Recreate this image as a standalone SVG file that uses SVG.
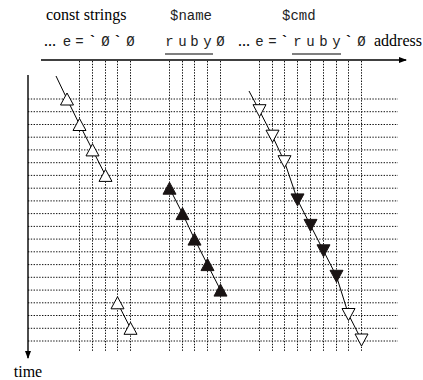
<svg xmlns="http://www.w3.org/2000/svg" xmlns:xlink="http://www.w3.org/1999/xlink" width="423" height="380" viewBox="0 0 423 380">
<style>
.serif{font-family:"Liberation Serif","Times New Roman",serif;font-size:16px;fill:#000}
.mono{font-family:"Liberation Mono","Courier New",monospace;font-size:14px;fill:#222}
.tick{font-family:"Liberation Mono","Courier New",monospace;font-size:14px;font-weight:bold;fill:#000}
.ell{font-family:"Liberation Serif","Times New Roman",serif;font-size:12px;font-weight:bold;fill:#000}
.grid line{stroke:#111;stroke-width:1;stroke-dasharray:1.4 1.4}
.axis{stroke:#000;stroke-width:1.4;fill:none}
.conn{stroke:#000;stroke-width:1;fill:none}
.open{fill:#fff;stroke:#000;stroke-width:1}
.solid{fill:#1a1414;stroke:#1a1414;stroke-width:1}
</style>
<defs>
<path id="up" d="M0,-6 L6.5,6 L-6.5,6 Z"/>
<path id="dn" d="M-6.5,-7 L6.5,-7 L0,5 Z"/>
<marker id="ah" viewBox="0 0 8 6" refX="7" refY="3" markerWidth="8" markerHeight="6" markerUnits="userSpaceOnUse" orient="auto">
<path d="M0,0 L8,3 L0,6 Z" fill="#000"/>
</marker>
</defs>

<g id="grid" class="grid">
<line x1="28" y1="99" x2="398" y2="99"/>
<line x1="28" y1="111.7" x2="398" y2="111.7"/>
<line x1="28" y1="124.5" x2="398" y2="124.5"/>
<line x1="28" y1="137.2" x2="398" y2="137.2"/>
<line x1="28" y1="149.9" x2="398" y2="149.9"/>
<line x1="28" y1="162.7" x2="398" y2="162.7"/>
<line x1="28" y1="175.4" x2="398" y2="175.4"/>
<line x1="28" y1="188.2" x2="398" y2="188.2"/>
<line x1="28" y1="200.9" x2="398" y2="200.9"/>
<line x1="28" y1="213.6" x2="398" y2="213.6"/>
<line x1="28" y1="226.4" x2="398" y2="226.4"/>
<line x1="28" y1="239.1" x2="398" y2="239.1"/>
<line x1="28" y1="251.8" x2="398" y2="251.8"/>
<line x1="28" y1="264.6" x2="398" y2="264.6"/>
<line x1="28" y1="277.3" x2="398" y2="277.3"/>
<line x1="28" y1="290.1" x2="398" y2="290.1"/>
<line x1="28" y1="302.8" x2="398" y2="302.8"/>
<line x1="28" y1="315.5" x2="398" y2="315.5"/>
<line x1="28" y1="328.3" x2="398" y2="328.3"/>
<line x1="28" y1="341" x2="398" y2="341"/>
<line x1="79.5" y1="61" x2="79.5" y2="352"/>
<line x1="92.5" y1="61" x2="92.5" y2="352"/>
<line x1="105.5" y1="61" x2="105.5" y2="352"/>
<line x1="117.5" y1="61" x2="117.5" y2="352"/>
<line x1="130.5" y1="61" x2="130.5" y2="352"/>
<line x1="169.5" y1="61" x2="169.5" y2="352"/>
<line x1="182.5" y1="61" x2="182.5" y2="352"/>
<line x1="194.5" y1="61" x2="194.5" y2="352"/>
<line x1="207.5" y1="61" x2="207.5" y2="352"/>
<line x1="220.5" y1="61" x2="220.5" y2="352"/>
<line x1="259.5" y1="61" x2="259.5" y2="352"/>
<line x1="272.5" y1="61" x2="272.5" y2="352"/>
<line x1="284.5" y1="61" x2="284.5" y2="352"/>
<line x1="297.5" y1="61" x2="297.5" y2="352"/>
<line x1="310.5" y1="61" x2="310.5" y2="352"/>
<line x1="323.5" y1="61" x2="323.5" y2="352"/>
<line x1="336.5" y1="61" x2="336.5" y2="352"/>
<line x1="348.5" y1="61" x2="348.5" y2="352"/>
<line x1="361.5" y1="61" x2="361.5" y2="352"/>
</g>

<g id="axes">
<line id="address-axis" class="axis" x1="41" y1="60" x2="406" y2="60" marker-end="url(#ah)"/>
<line id="time-axis" class="axis" x1="28" y1="75" x2="28" y2="358" marker-end="url(#ah)"/>
<text class="serif" x="374" y="46">address</text>
<text class="serif" x="28" y="377" text-anchor="middle">time</text>
</g>

<g id="labels">
<text class="serif" x="46" y="20">const strings</text>
<text class="mono" x="170" y="20">$name</text>
<text class="mono" x="282" y="20">$cmd</text>
</g>

<g id="memory-row">
<text class="ell" x="44" y="46">…</text>
<text class="mono" y="46" text-anchor="middle"><tspan x="67">e</tspan><tspan x="79.5">=</tspan></text>
<text class="tick" x="92.5" y="46" text-anchor="middle">`</text>
<text class="mono" x="105.5" y="46" text-anchor="middle">Ø</text>
<text class="tick" x="117.5" y="46" text-anchor="middle">`</text>
<text class="mono" x="130.5" y="46" text-anchor="middle">Ø</text>
<text class="mono" y="46" text-anchor="middle"><tspan x="169.5">r</tspan><tspan x="182.5">u</tspan><tspan x="194.5">b</tspan><tspan x="207.5">y</tspan><tspan x="220.5">Ø</tspan></text>
<line x1="165" y1="54" x2="213" y2="54" stroke="#000" stroke-width="1.2"/>
<text class="ell" x="238" y="46">…</text>
<text class="mono" y="46" text-anchor="middle"><tspan x="259.5">e</tspan><tspan x="272.5">=</tspan></text>
<text class="tick" x="284.5" y="46" text-anchor="middle">`</text>
<text class="mono" y="46" text-anchor="middle"><tspan x="297.5">r</tspan><tspan x="310.5">u</tspan><tspan x="323.5">b</tspan><tspan x="336.5">y</tspan></text>
<text class="tick" x="348.5" y="46" text-anchor="middle">`</text>
<text class="mono" x="361.5" y="46" text-anchor="middle">Ø</text>
<line x1="292" y1="54" x2="341" y2="54" stroke="#000" stroke-width="1.2"/>
</g>

<g id="connectors">
<polyline class="conn" points="56,76 67,99 79.5,124.5 92.5,149.9 105.5,175.4 107,179"/>
<polyline class="conn" points="169.5,188.2 182.5,213.6 194.5,239.1 207.5,264.6 220.5,290.1"/>
<polyline class="conn" points="117.5,302.8 130.5,328.3"/>
<polyline class="conn" points="249,91 259.5,110.7 272.5,136.2 284.5,161.7 297.5,199.9 310.5,225.4 323.5,250.8 336.5,276.3 348.5,314.5 361.5,340"/>
</g>

<g id="const-strings-access">
<use href="#up" class="open" x="67" y="99"/>
<use href="#up" class="open" x="79.5" y="124.5"/>
<use href="#up" class="open" x="92.5" y="149.9"/>
<use href="#up" class="open" x="105.5" y="175.4"/>
<use href="#up" class="open" x="117.5" y="302.8"/>
<use href="#up" class="open" x="130.5" y="328.3"/>
</g>

<g id="name-access">
<use href="#up" class="solid" x="169.5" y="188.2"/>
<use href="#up" class="solid" x="182.5" y="213.6"/>
<use href="#up" class="solid" x="194.5" y="239.1"/>
<use href="#up" class="solid" x="207.5" y="264.6"/>
<use href="#up" class="solid" x="220.5" y="290.1"/>
</g>

<g id="cmd-access">
<use href="#dn" class="open" x="259.5" y="111.7"/>
<use href="#dn" class="open" x="272.5" y="137.2"/>
<use href="#dn" class="open" x="284.5" y="162.7"/>
<use href="#dn" class="solid" x="297.5" y="200.9"/>
<use href="#dn" class="solid" x="310.5" y="226.4"/>
<use href="#dn" class="solid" x="323.5" y="251.8"/>
<use href="#dn" class="solid" x="336.5" y="277.3"/>
<use href="#dn" class="open" x="348.5" y="315.5"/>
<use href="#dn" class="open" x="361.5" y="341"/>
</g>
</svg>
